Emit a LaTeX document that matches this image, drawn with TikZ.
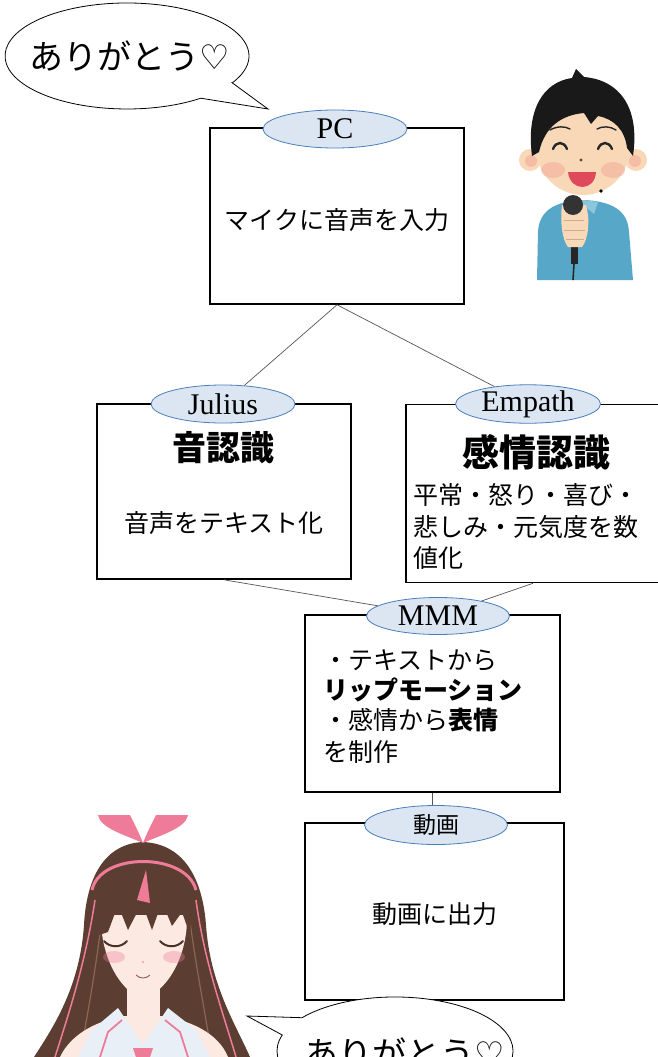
\documentclass[tikz,border=0pt]{standalone}
\usepackage{fontspec}
\newfontfamily\jpfont{Noto Sans CJK JP}
\newfontfamily\tagfont{Liberation Serif}
\newfontfamily\symfont{DejaVu Sans}
\usetikzlibrary{shapes.geometric}

\definecolor{tagfill}{HTML}{DCE6F2}
\definecolor{tagedge}{HTML}{4A7EBB}
\definecolor{linkgray}{HTML}{555555}
% singer colours
\definecolor{skin}{HTML}{F9D8B8}
\definecolor{blush}{HTML}{F2A99A}
\definecolor{shirt}{HTML}{57A8C8}
\definecolor{shirtlight}{HTML}{8CC6DD}
\definecolor{mouthred}{HTML}{DE4A5C}
% avatar colours
\definecolor{gskin}{HTML}{FCEAE2}
\definecolor{ghair}{HTML}{5B3E31}
\definecolor{ghairlight}{HTML}{8C6654}
\definecolor{gpink}{HTML}{EE7C98}
\definecolor{gcollar}{HTML}{E9EFF7}

\begin{document}
\begin{tikzpicture}[x=1pt,y=-1pt,
  stagebox/.style={draw=black, line width=1.6pt, fill=white, inner sep=0pt},
  tag/.style={ellipse, draw=tagedge, fill=tagfill, line width=0.8pt, inner sep=0pt,
              minimum width=144pt, minimum height=38pt, font=\tagfont\fontsize{30}{30}\selectfont},
  jptag/.style={tag, font=\jpfont\fontsize{23}{23}\selectfont},
  body/.style={inner sep=0pt, font=\jpfont\fontsize{25}{30}\selectfont},
  title/.style={inner sep=0pt, font=\jpfont\bfseries\fontsize{#1}{#1}\selectfont},
  line/.style={inner sep=0pt, anchor=base west, font=\jpfont\fontsize{25}{30}\selectfont},
  link/.style={draw=linkgray, line width=0.7pt},
  bubble/.style={draw=black, line width=0.8pt, fill=white},
  saytext/.style={inner sep=0pt, font=\jpfont\fontsize{34}{34}\selectfont}]

\path[use as bounding box, clip] (0,0) rectangle (658,1057);
\fill[white] (0,0) rectangle (658,1057);

% ---------- singer with microphone ----------
\fill[skin] (530,160) circle[radius=11];
\fill[skin] (636,160) circle[radius=11];
\fill[blush!60!skin] (531,161) circle[radius=6];
\fill[blush!60!skin] (635,161) circle[radius=6];
\fill[shirt] (537,280) -- (538,232) .. controls (539,210) and (556,201) .. (583,200)
  .. controls (611,201) and (628,210) .. (629,232) -- (633,280) -- cycle;
\fill[shirtlight] (568,202) -- (583,200) -- (598,202) -- (594,214) -- (583,205) -- (572,214) -- cycle;
\fill[skin] (583,147) ellipse[x radius=47, y radius=48];
\fill[blush, opacity=0.55] (553,170) ellipse[x radius=12, y radius=8];
\fill[blush, opacity=0.55] (613,170) ellipse[x radius=12, y radius=8];
\fill[black!90] (532,156) .. controls (526,110) and (543,82) .. (572,78) -- (576,69) -- (584,77)
  .. controls (620,80) and (640,108) .. (633,156) -- (627,148)
  .. controls (625,130) and (614,119) .. (598,116) -- (591,124) -- (584,113)
  .. controls (562,115) and (545,126) .. (539,152) -- cycle;
\draw[black!85, line width=1.4pt, line cap=round] (550,130) .. controls (557,126) and (565,126) .. (570,129);
\draw[black!85, line width=1.4pt, line cap=round] (597,129) .. controls (602,126) and (610,126) .. (616,130);
\draw[black!85, line width=2.4pt, line cap=round] (553,149) .. controls (556,141) and (564,141) .. (567,149);
\draw[black!85, line width=2.4pt, line cap=round] (598,149) .. controls (601,141) and (609,141) .. (612,149);
\fill[black!70] (581,160) circle[radius=1.6];
\fill[mouthred] (568,172) -- (596,172) .. controls (595,192) and (570,192) .. (568,172) -- cycle;
\fill[black] (601,191) circle[radius=1.8];
\fill[black!85] (571,245) rectangle (578,264);
\draw[black!85, line width=1.6pt] (574,264) -- (573,280);
\fill[skin] (562,205) .. controls (560,220) and (562,240) .. (568,247) -- (582,247)
  .. controls (589,238) and (590,218) .. (586,205) -- cycle;
\fill[black!80] (573,205) circle[radius=10];
\draw[skin!80!black, line width=0.6pt] (564,220) -- (584,220) (564,230) -- (585,230) (566,239) -- (584,239);

% ---------- avatar ----------
\fill[ghair] (143,842) .. controls (100,844) and (86,885) .. (84,925)
  .. controls (80,985) and (55,1025) .. (34,1057) -- (250,1057)
  .. controls (236,1025) and (210,985) .. (206,925)
  .. controls (203,885) and (188,844) .. (143,842) -- cycle;
\draw[gpink, line width=1.5pt] (95,900) .. controls (86,960) and (70,1010) .. (55,1057);
\draw[gpink, line width=1.5pt] (196,900) .. controls (204,960) and (222,1010) .. (236,1057);
\draw[ghairlight, line width=1.2pt] (105,890) .. controls (98,960) and (88,1010) .. (80,1057);
\draw[ghairlight, line width=1.2pt] (186,890) .. controls (194,960) and (205,1010) .. (212,1057);
\fill[gskin] (60,1057) .. controls (72,1032) and (100,1020) .. (125,1016) -- (162,1016)
  .. controls (188,1020) and (218,1032) .. (228,1057) -- cycle;
\fill[gskin] (127,985) rectangle (160,1030);
\fill[gcollar] (78,1057) -- (92,1030) -- (118,1008) -- (143,1045) -- (168,1008) -- (196,1030) -- (210,1057) -- cycle;
\draw[gpink, line width=1.8pt] (100,1057) -- (108,1032) -- (122,1020);
\draw[gpink, line width=1.8pt] (188,1057) -- (180,1032) -- (165,1020);
\fill[gpink] (133,1048) -- (153,1048) -- (150,1057) -- (136,1057) -- cycle;
\fill[gskin] (101,915) .. controls (100,962) and (125,995) .. (143,998)
  .. controls (162,995) and (188,962) .. (187,915) -- cycle;
\fill[gpink, opacity=0.35] (114,957) ellipse[x radius=11, y radius=6];
\fill[gpink, opacity=0.35] (174,957) ellipse[x radius=11, y radius=6];
\fill[ghair] (99,935) .. controls (94,872) and (118,848) .. (144,848)
  .. controls (172,848) and (196,872) .. (190,935) -- (182,912) -- (172,926) -- (162,902)
  -- (152,930) -- (142,903) -- (128,930) -- (118,905) -- (108,932) -- cycle;
\fill[gpink] (137,900) -- (146,870) -- (150,903) -- cycle;
\draw[ghair!80!black, line width=2pt, line cap=round] (104,941) .. controls (110,948) and (121,948) .. (127,941);
\draw[ghair!80!black, line width=2pt, line cap=round] (160,941) .. controls (166,948) and (177,948) .. (183,941);
\fill[gpink!70!gskin] (143,962) circle[radius=1.2];
\draw[gpink!60!black, line width=0.8pt] (136,975) .. controls (140,979) and (146,979) .. (150,975);
\draw[gpink, line width=3pt] (92,890) .. controls (100,852) and (186,852) .. (196,890);
\fill[gpink] (143,843) .. controls (125,835) and (100,828) .. (98,815) -- (130,815)
  .. controls (135,825) and (140,835) .. (143,843) -- cycle;
\fill[gpink] (143,843) .. controls (161,835) and (186,828) .. (188,815) -- (156,815)
  .. controls (151,825) and (146,835) .. (143,843) -- cycle;
\fill[white] (139,815) rectangle (147,828);

% ---------- process boxes ----------
\node[stagebox, minimum width=254pt, minimum height=176pt] (pc) at (337,216) {};
\node[stagebox, minimum width=254pt, minimum height=175pt] (julius) at (224,491.5) {};
\node[stagebox, minimum width=254pt, minimum height=178pt] (empath) at (533,493.5) {};
\node[stagebox, minimum width=255pt, minimum height=177pt] (mmm) at (432.5,703.5) {};
\node[stagebox, minimum width=259pt, minimum height=177pt] (movie) at (434.5,911.5) {};

% box contents
\node[body] (pctext) at (337,220) {マイクに音声を入力};
\node[title=34] (juliustitle) at (223,448) {音認識};
\node[body] (juliustext) at (224,523) {音声をテキスト化};
\node[title=37] (empathtitle) at (536,452) {感情認識};
\node[line] (empathl1) at (413,504.5) {平常・怒り・喜び・};
\node[line] (empathl2) at (413,536.5) {悲しみ・元気度を数};
\node[line] (empathl3) at (413,567.5) {値化};
\node[line] (mmml1) at (323,669.5) {・テキストから};
\node[line] (mmml2) at (323,699.5) {\bfseries リップモーション};
\node[line] (mmml3) at (323,729.5) {・感情から{\bfseries 表情}};
\node[line] (mmml4) at (323,761.5) {を制作};
\node[body] (movietext) at (434.5,914) {動画に出力};

% tool labels on the box tops
\node[tag] (pctag) at (335,129) {PC};
\node[tag] (juliustag) at (223,404) {Julius};
\node[tag, minimum width=145pt] (empathtag) at (528,404) {Empath};
\node[tag, minimum width=143pt, minimum height=37pt] (mmmtag) at (438,616) {MMM};
\node[jptag, minimum width=143pt, minimum height=39pt] (movietag) at (436,825) {動画};

% connectors
\draw[link] (pc.south) -- (juliustag);
\draw[link] (pc.south) -- (empathtag);
\draw[link] (julius.south) -- (mmmtag);
\draw[link] (empath.south) -- (mmmtag);
\draw[link] (mmm.south) -- (mmm.south |- movietag.north);

% speech bubbles
\draw[bubble] (232.2,82.8) -- (268,109) -- (200.8,98.2)
  arc[start angle=52.8, end angle=390.4, x radius=122, y radius=53] -- cycle;
\node[saytext] (saytop) at (130,56) {ありがとう{\symfont ♡}};
\draw[bubble] (302.1,1017.7) -- (247,1016) -- (282.3,1035.0)
  arc[start angle=197.2, end angle=-141.9, x radius=118, y radius=54] -- cycle;
\node[saytext] (saybottom) at (405,1053) {ありがとう{\symfont ♡}};
\end{tikzpicture}
\end{document}
